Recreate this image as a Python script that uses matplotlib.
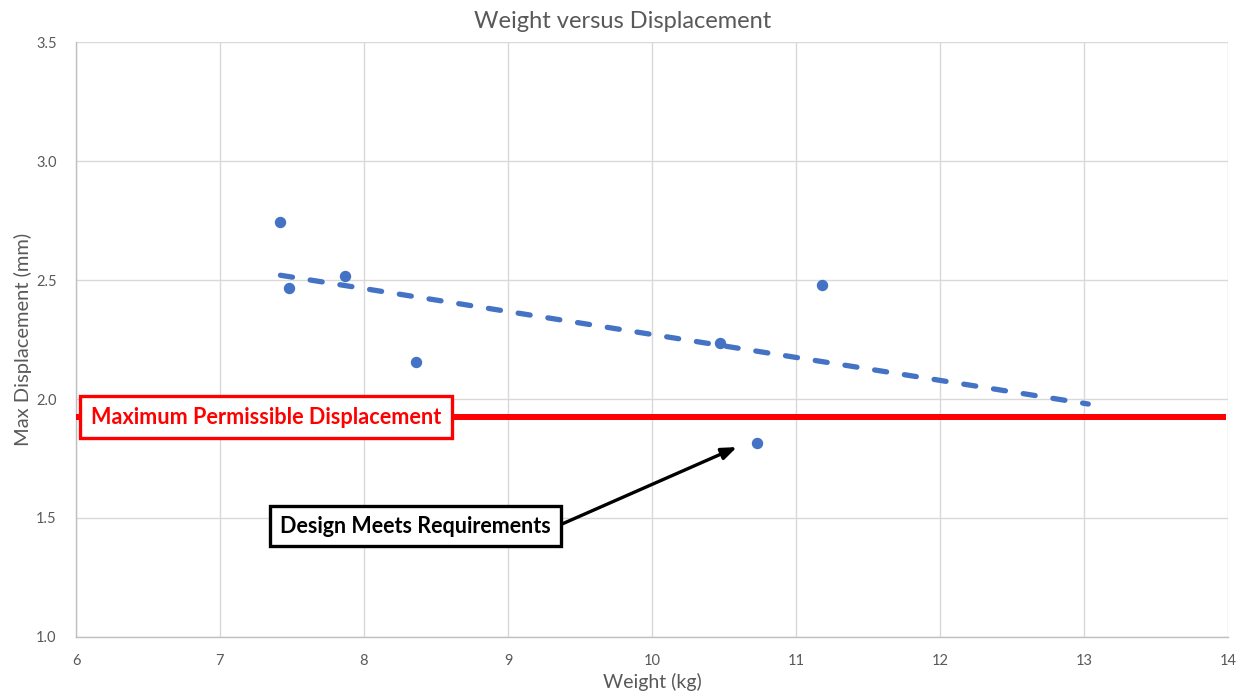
import matplotlib
matplotlib.use("Agg")
import matplotlib.pyplot as plt

plt.rcParams['font.family'] = ['Lato', 'DejaVu Sans']

# Design candidates: weight (kg) vs maximum displacement (mm)
weight_kg = [7.42, 7.48, 7.87, 8.36, 10.47, 10.73, 11.18]
max_disp_mm = [2.744, 2.466, 2.517, 2.155, 2.235, 1.815, 2.479]

# Linear trendline endpoints (forecast forward to 13 kg)
trend_x = [7.42, 13.03]
trend_y = [2.52, 1.979]

# Displacement limit
limit_mm = 1.924
limit_x = [6.0, 13.99]

x_ticks = [6, 7, 8, 9, 10, 11, 12, 13, 14]
y_ticks = [1.0, 1.5, 2.0, 2.5, 3.0, 3.5]

blue = '#4472C4'
grey_text = '#595959'
grid_col = '#D9D9D9'

fig = plt.figure(figsize=(12.46, 6.98), dpi=100)
ax = fig.add_axes([0.061, 0.0874, 0.9245, 0.8524])

ax.set_xlim(6, 14)
ax.set_ylim(1.0, 3.5)
ax.set_xticks(x_ticks)
ax.set_yticks(y_ticks)
ax.set_xticklabels([str(t) for t in x_ticks])
ax.set_yticklabels([f"{t:.1f}" for t in y_ticks])
ax.tick_params(length=0, labelsize=10.5, labelcolor=grey_text)
ax.tick_params(axis='x', pad=12)
ax.tick_params(axis='y', pad=14)
ax.grid(True, color=grid_col, linewidth=1)
ax.set_axisbelow(True)
for s in ['top', 'right']:
    ax.spines[s].set_visible(False)
for s in ['left', 'bottom']:
    ax.spines[s].set_color('#BFBFBF')
    ax.spines[s].set_linewidth(1)

# Trendline
ax.plot(trend_x, trend_y, color=blue, linewidth=3.8,
        dashes=(2.3, 3.4), dash_capstyle='round', zorder=3)

# Limit line
ax.plot(limit_x, [limit_mm, limit_mm], color='#FF0000', linewidth=4.3,
        solid_capstyle='butt', zorder=3)

# Data points
ax.plot(weight_kg, max_disp_mm, linestyle='none', marker='o',
        markersize=7.2, color=blue, zorder=4)

# Callouts
ax.text(7.32, limit_mm, "Maximum Permissible Displacement", color='#FF0000',
        fontsize=15.6, fontweight='bold', ha='center', va='center', zorder=5,
        bbox=dict(boxstyle='square,pad=0.5', facecolor='white',
                  edgecolor='#FF0000', linewidth=2.4))

ax.annotate("", xy=(10.59, 1.798), xytext=(9.376, 1.475),
            arrowprops=dict(arrowstyle='-|>,head_length=0.9,head_width=0.35',
                            color='black', linewidth=2.4,
                            shrinkA=0, shrinkB=0), zorder=5)

ax.text(8.358, 1.466, "Design Meets Requirements", color='black',
        fontsize=15.5, fontweight='bold', ha='center', va='center', zorder=6,
        bbox=dict(boxstyle='square,pad=0.45', facecolor='white',
                  edgecolor='black', linewidth=2.4))

fig.text(0.5, 0.969, "Weight versus Displacement", ha='center', va='center',
         fontsize=17, color=grey_text)
ax.set_xlabel("Weight (kg)", fontsize=14, color=grey_text, labelpad=4)
ax.set_ylabel("Max Displacement (mm)", fontsize=14.5, color=grey_text, labelpad=3)

fig.savefig("out.png", dpi=100)
